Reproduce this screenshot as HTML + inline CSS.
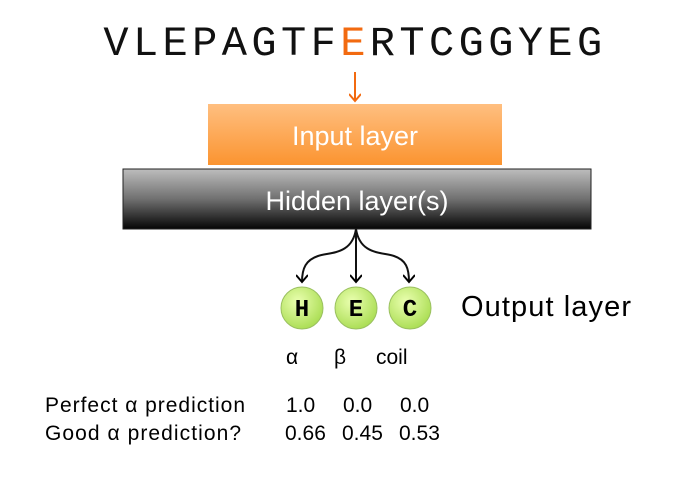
<!DOCTYPE html>
<html><head><meta charset="utf-8"><style>
html,body{margin:0;padding:0;background:#fff;}
svg{display:block;}
.s{font-family:"Liberation Sans","DejaVu Sans",sans-serif;}
</style></head><body>
<svg width="680" height="482" viewBox="0 0 680 482">
<defs>
<linearGradient id="og" x1="0" y1="0" x2="0" y2="1"><stop offset="0" stop-color="#ffbf80"/><stop offset="1" stop-color="#fb9430"/></linearGradient>
<linearGradient id="hg" x1="0" y1="0" x2="0" y2="1"><stop offset="0" stop-color="#bdbdbd"/><stop offset="0.5" stop-color="#707070"/><stop offset="1" stop-color="#050505"/></linearGradient>
<radialGradient id="cg" cx="0.4" cy="0.35" r="0.7"><stop offset="0" stop-color="#eaffb0"/><stop offset="1" stop-color="#a8dc50"/></radialGradient>
<marker id="ah" markerWidth="12" markerHeight="12" refX="8" refY="6" orient="auto" markerUnits="userSpaceOnUse"><path d="M1,0 L8,6 L1,12" fill="none" stroke="#000" stroke-width="2"/></marker>
<marker id="ao" markerWidth="12" markerHeight="12" refX="8" refY="6" orient="auto" markerUnits="userSpaceOnUse"><path d="M1,0 L8,6 L1,12" fill="none" stroke="#f26a10" stroke-width="2"/></marker>
</defs>
<text x="355" y="55" text-anchor="middle" font-family="Liberation Mono,monospace" font-size="42" letter-spacing="4.4" fill="#111">VLEPAGTF<tspan fill="#f26a10">E</tspan>RTCGGYEG</text>
<line x1="355" y1="72" x2="355" y2="101" stroke="#f26a10" stroke-width="2" marker-end="url(#ao)"/>
<rect x="208" y="104" width="294" height="61" fill="url(#og)"/>
<text class="s" x="355" y="145" text-anchor="middle" font-size="27" fill="#fff">Input layer</text>
<rect x="123" y="169" width="468" height="60" fill="url(#hg)" stroke="#222" stroke-width="1"/>
<text class="s" x="357" y="210" text-anchor="middle" font-size="27" fill="#fff">Hidden layer(s)</text>
<g fill="none" stroke="#111" stroke-width="2">
<path d="M356,229 C352,255 330,252 318,256 C306,260 302,268 302,282" marker-end="url(#ah)"/>
<path d="M356,229 L356,282" marker-end="url(#ah)"/>
<path d="M356,229 C360,255 382,252 394,256 C406,260 409,268 409,282" marker-end="url(#ah)"/>
</g>
<g font-family="Liberation Mono,monospace" font-size="24" font-weight="bold" text-anchor="middle">
<circle cx="302" cy="308" r="21" fill="url(#cg)" stroke="#9ac060"/><text x="302" y="316">H</text>
<circle cx="356" cy="308" r="21" fill="url(#cg)" stroke="#9ac060"/><text x="356" y="316">E</text>
<circle cx="410" cy="308" r="21" fill="url(#cg)" stroke="#9ac060"/><text x="410" y="316">C</text>
</g>
<text class="s" x="461" y="316" font-size="29" textLength="170" fill="#000">Output layer</text>
<g class="s" font-size="21" fill="#000">
<text x="286" y="364">α</text><text x="334" y="364">β</text><text x="376" y="364">coil</text>
<text x="45" y="412" textLength="200">Perfect α prediction</text>
<text x="286" y="412">1.0</text><text x="343" y="412">0.0</text><text x="400" y="412">0.0</text>
<text x="45" y="440" textLength="196">Good α prediction?</text>
<text x="285" y="440">0.66</text><text x="342" y="440">0.45</text><text x="399" y="440">0.53</text>
</g>
</svg>
</body></html>
